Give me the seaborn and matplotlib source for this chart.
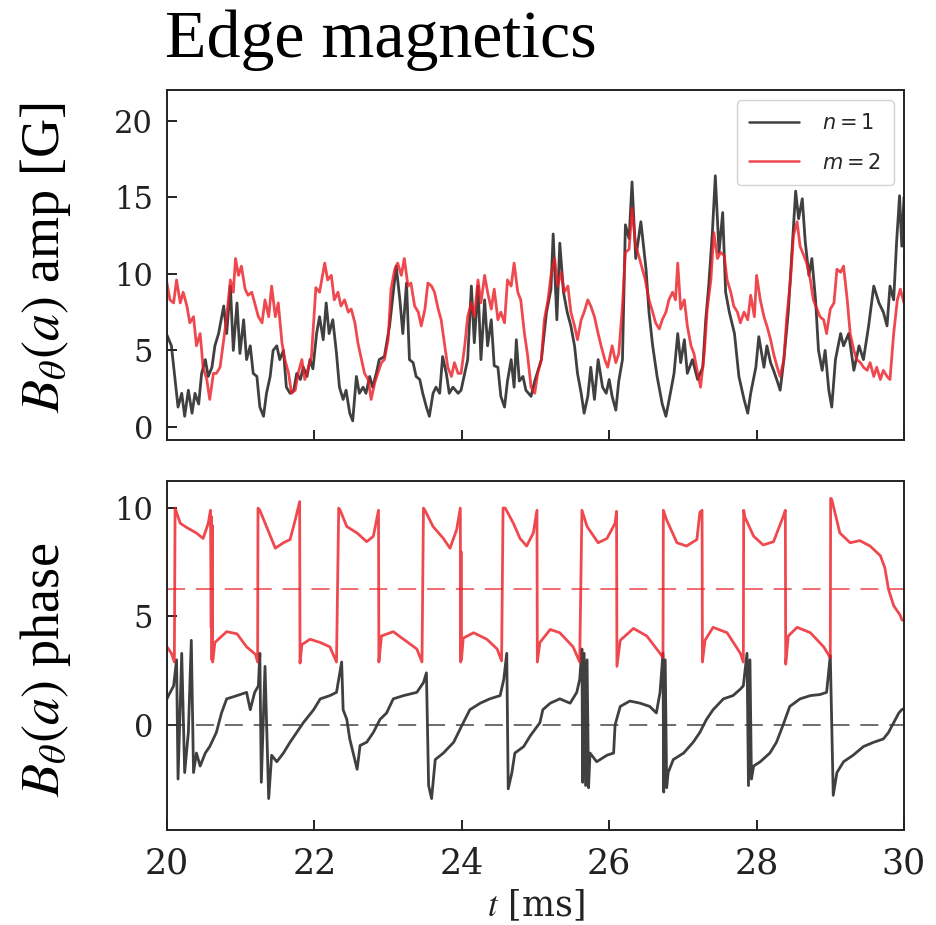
import numpy as np
import pandas as pd
import seaborn as sns
import matplotlib
matplotlib.use("Agg")
import matplotlib.pyplot as plt
from matplotlib.font_manager import FontProperties

# ---------------- data ----------------
amp_n1_t = [20.00,20.06,20.11,20.15,20.20,20.24,20.29,20.34,20.38,20.43,20.47,20.52,20.56,20.61,20.65,20.70,20.77,20.81,20.86,20.90,
            20.95,20.99,21.04,21.08,21.13,21.17,21.22,21.26,21.31,21.35,21.40,21.44,21.49,21.53,21.58,21.62,21.67,21.72,21.76,21.81,
            21.85,21.90,21.94,21.98,22.03,22.07,22.12,22.16,22.20,22.25,22.30,22.34,22.39,22.43,22.48,22.52,22.57,22.61,22.66,22.70,
            22.75,22.79,22.84,22.88,22.95,23.02,23.07,23.11,23.16,23.20,23.25,23.29,23.34,23.38,23.43,23.47,23.52,23.56,23.61,23.65,
            23.70,23.74,23.79,23.83,23.88,23.95,23.99,24.04,24.08,24.13,24.17,24.22,24.26,24.31,24.35,24.40,24.44,24.49,24.53,24.58,
            24.62,24.67,24.71,24.74,24.78,24.83,24.87,24.94,24.99,25.08,25.15,25.21,25.24,25.29,25.33,25.38,25.43,25.48,25.53,25.57,
            25.62,25.66,25.71,25.75,25.80,25.85,25.91,25.96,26.00,26.04,26.09,26.13,26.18,26.22,26.27,26.31,26.36,26.43,26.50,26.54,
            26.59,26.65,26.72,26.77,26.83,26.88,26.93,26.97,27.02,27.06,27.13,27.20,27.27,27.31,27.35,27.40,27.44,27.49,27.54,27.58,
            27.63,27.70,27.76,27.83,27.88,27.92,27.99,28.03,28.10,28.14,28.19,28.23,28.28,28.32,28.37,28.43,28.48,28.53,28.57,28.62,
            28.66,28.71,28.75,28.80,28.84,28.89,28.93,28.98,29.02,29.07,29.14,29.18,29.25,29.32,29.39,29.45,29.52,29.59,29.66,29.72,
            29.77,29.81,29.86,29.90,29.94,29.97,30.00]
amp_n1 = [6.0,5.3,3.1,1.3,2.2,0.7,2.4,0.9,2.2,1.5,3.5,4.4,3.3,3.9,5.3,6.1,7.9,6.1,9.2,5.0,
          8.1,4.8,7.0,4.4,5.3,3.5,3.3,1.3,0.7,2.2,3.3,5.0,5.3,4.4,5.0,2.6,2.2,2.4,3.5,3.1,
          3.9,3.3,4.4,3.8,6.1,7.2,5.7,8.1,6.1,7.0,4.8,2.6,1.8,2.4,0.9,0.4,3.3,2.2,2.6,2.2,
          3.3,2.6,3.5,4.4,4.6,6.6,8.8,10.5,8.3,6.1,9.4,4.4,4.2,3.3,3.1,2.2,1.3,0.7,2.2,2.6,
          2.2,4.6,3.5,2.2,2.6,2.2,2.4,3.5,4.4,9.2,5.5,9.2,4.4,8.3,5.3,7.0,4.0,3.9,2.0,1.3,
          3.0,4.4,2.6,5.7,3.0,3.3,2.4,2.0,3.0,4.4,7.5,9.0,12.6,7.0,12.0,8.8,7.5,6.6,5.3,3.5,
          2.2,0.9,2.0,3.9,1.8,4.4,2.6,2.2,3.1,2.0,1.1,3.0,4.4,13.2,12.3,16.0,11.0,13.4,10.3,7.5,
          5.3,3.3,1.5,0.7,2.2,3.5,6.1,4.2,5.7,3.5,4.4,3.1,3.9,7.0,9.2,12.7,16.4,11.4,14.0,8.8,
          7.5,6.1,3.3,1.8,0.9,2.2,3.9,5.9,3.9,5.3,4.2,3.7,3.0,2.4,4.4,7.5,11.4,15.4,13.6,14.9,
          12.1,9.9,11.0,8.3,5.0,3.7,5.0,2.4,1.3,4.4,6.1,5.3,6.1,3.7,5.3,4.4,6.6,9.2,8.1,7.5,
          6.6,9.2,8.3,12.1,15.1,11.8,15.0]

amp_m2_t = [20.00,20.04,20.09,20.13,20.18,20.22,20.27,20.31,20.36,20.40,20.45,20.49,20.54,20.58,20.63,20.67,20.72,20.77,20.81,20.86,
            20.90,20.93,20.97,21.01,21.06,21.10,21.15,21.20,21.24,21.29,21.33,21.38,21.42,21.47,21.51,21.56,21.60,21.65,21.69,21.74,
            21.78,21.83,21.87,21.92,21.96,22.02,22.07,22.14,22.18,22.23,22.27,22.32,22.36,22.41,22.46,22.50,22.55,22.59,22.64,22.68,
            22.73,22.77,22.82,22.86,22.91,22.95,23.00,23.04,23.09,23.13,23.18,23.22,23.27,23.31,23.36,23.41,23.45,23.50,23.54,23.59,
            23.63,23.68,23.72,23.77,23.81,23.86,23.90,23.95,23.99,24.04,24.08,24.13,24.17,24.22,24.26,24.31,24.35,24.40,24.44,24.49,
            24.53,24.58,24.62,24.67,24.71,24.76,24.80,24.85,24.89,24.94,24.99,25.03,25.08,25.12,25.17,25.21,25.26,25.30,25.35,25.39,
            25.44,25.48,25.53,25.57,25.62,25.66,25.71,25.75,25.80,25.85,25.89,25.94,25.98,26.04,26.09,26.13,26.18,26.22,26.27,26.31,
            26.36,26.40,26.45,26.49,26.54,26.59,26.63,26.68,26.72,26.77,26.81,26.86,26.90,26.93,26.97,27.02,27.06,27.11,27.15,27.20,
            27.24,27.29,27.33,27.38,27.42,27.47,27.51,27.56,27.60,27.65,27.69,27.74,27.78,27.83,27.88,27.92,27.97,28.00,28.05,28.10,
            28.14,28.19,28.23,28.28,28.32,28.37,28.41,28.46,28.50,28.55,28.59,28.64,28.68,28.73,28.77,28.82,28.86,28.91,28.95,29.00,
            29.05,29.09,29.14,29.18,29.23,29.27,29.32,29.36,29.41,29.45,29.50,29.54,29.59,29.63,29.68,29.72,29.77,29.81,29.86,29.91,
            29.95,30.00]
amp_m2 = [9.4,8.3,8.1,9.6,8.1,8.8,7.9,6.8,7.2,5.3,6.1,3.9,3.1,1.8,3.5,3.5,3.9,5.7,7.2,9.6,
          8.8,11.0,9.9,10.5,9.0,8.6,8.8,7.9,7.2,6.8,8.3,7.2,9.2,7.2,8.1,5.5,4.4,3.5,2.2,2.4,
          3.5,4.4,3.1,3.9,4.6,9.1,8.8,10.7,9.6,9.9,8.3,8.8,7.9,8.3,7.5,7.7,6.8,5.5,4.4,3.5,
          3.1,1.8,2.9,3.5,4.2,4.4,5.7,9.0,10.3,10.7,9.9,11.0,9.2,9.4,7.9,7.5,6.6,7.7,9.4,9.2,
          8.8,7.7,7.0,5.3,3.9,3.3,4.2,3.5,3.5,5.3,7.2,8.1,7.2,9.6,8.1,9.9,8.8,7.7,9.0,7.0,
          7.5,6.8,9.6,9.2,10.7,8.8,8.3,6.1,4.8,2.6,2.2,3.5,4.4,7.0,8.3,9.9,11.0,9.2,10.1,8.8,
          9.2,7.5,6.6,5.7,7.0,7.5,8.3,7.9,7.2,6.1,5.3,4.4,3.9,5.3,4.2,4.8,7.9,11.4,11.6,14.3,
          11.8,11.2,10.3,9.6,8.3,7.5,6.8,6.4,7.0,7.5,8.3,8.8,8.3,10.7,7.7,8.3,6.6,5.3,4.8,3.5,
          2.6,4.8,7.7,9.6,12.7,11.0,11.4,11.2,9.6,8.8,7.9,7.5,6.8,7.5,7.0,8.6,7.2,9.9,8.3,7.2,
          6.6,5.7,4.8,3.9,3.3,4.4,7.2,9.6,12.5,13.4,11.8,11.2,10.7,9.6,8.3,7.7,7.2,7.0,6.1,7.7,
          8.1,10.3,10.1,10.5,8.3,6.1,5.0,4.4,4.2,3.9,3.7,4.2,3.3,3.9,3.1,3.7,3.3,3.1,6.1,8.3,
          9.0,8.1]

ph_m2_t = [20.00,20.06,20.10,20.11,20.18,20.27,20.40,20.49,20.56,20.59,20.600,20.605,20.610,20.615,20.62,20.65,20.81,20.95,21.08,21.20,
           21.23,21.235,21.26,21.35,21.47,21.58,21.67,21.74,21.80,21.805,21.83,21.94,22.08,22.21,22.30,22.33,22.35,22.44,22.58,22.71,
           22.80,22.87,22.875,22.91,23.07,23.25,23.39,23.46,23.48,23.50,23.61,23.75,23.84,23.93,23.98,23.985,23.99,23.995,24.02,24.16,
           24.34,24.48,24.54,24.56,24.59,24.70,24.79,24.88,24.97,25.02,25.025,25.06,25.20,25.33,25.51,25.60,25.63,25.70,25.85,25.97,
           26.08,26.10,26.105,26.15,26.33,26.51,26.69,26.73,26.735,26.78,26.92,27.05,27.19,27.23,27.26,27.265,27.30,27.41,27.60,27.78,
           27.82,27.825,27.84,27.96,28.09,28.23,28.36,28.39,28.395,28.43,28.55,28.73,28.91,29.00,29.005,29.02,29.13,29.27,29.40,29.54,
           29.68,29.74,29.79,29.86,29.95,29.97,30.00]
ph_m2 = [3.6,3.3,2.9,10.0,9.3,9.1,8.85,8.6,9.3,9.9,4.5,9.6,3.0,9.2,2.9,3.8,4.3,4.2,3.6,3.25,
         2.9,10.0,9.9,9.15,8.15,8.4,8.55,9.45,10.3,2.85,3.7,3.95,3.8,3.6,2.9,10.0,9.9,9.15,8.85,8.45,
         8.7,9.9,2.9,4.1,4.3,3.85,3.5,2.9,10.0,9.9,9.15,8.6,8.15,9.0,10.0,2.9,8.0,3.0,4.0,4.25,
         3.95,3.5,2.95,10.0,10.0,9.3,8.6,8.25,8.85,9.9,2.9,3.8,4.4,4.25,3.6,2.9,9.9,9.15,8.4,8.6,
         9.3,9.85,2.7,3.9,4.45,4.1,3.3,3.1,9.9,9.45,8.4,8.25,8.55,9.8,9.9,2.9,3.9,4.5,4.25,3.3,
         2.9,9.9,9.6,8.7,8.3,8.45,9.6,9.9,2.8,4.1,4.5,4.25,3.6,3.1,10.45,10.4,8.85,8.4,8.5,8.25,
         7.8,7.25,6.25,5.5,5.05,4.85,4.8]

ph_n1_t = [20.00,20.02,20.09,20.13,20.15,20.20,20.24,20.29,20.33,20.36,20.40,20.45,20.52,20.58,20.67,20.74,20.81,20.95,21.08,21.13,
           21.19,21.24,21.26,21.28,21.33,21.38,21.42,21.49,21.58,21.67,21.76,21.85,21.99,22.08,22.21,22.30,22.37,22.39,22.44,22.48,
           22.58,22.62,22.71,22.80,22.89,22.98,23.07,23.21,23.39,23.48,23.52,23.55,23.59,23.64,23.75,23.89,24.02,24.11,24.25,24.38,
           24.52,24.57,24.61,24.63,24.68,24.72,24.84,24.93,25.06,25.10,25.20,25.33,25.47,25.56,25.60,25.63,25.64,25.66,25.68,25.70,
           25.72,25.74,25.83,25.97,26.06,26.08,26.15,26.28,26.42,26.55,26.64,26.69,26.73,26.74,26.76,26.78,26.80,26.87,27.01,27.14,
           27.23,27.32,27.41,27.55,27.68,27.78,27.82,27.87,27.89,27.91,27.93,27.96,28.05,28.18,28.27,28.36,28.45,28.59,28.73,28.86,
           28.95,29.00,29.04,29.09,29.18,29.31,29.45,29.59,29.72,29.79,29.86,29.93,29.97,30.00]
ph_n1 = [1.2,1.35,1.8,3.0,-2.5,3.3,-2.2,-0.35,3.9,-2.2,-1.3,-1.9,-1.3,-1.0,-0.35,0.55,1.2,1.35,1.5,0.7,
         1.5,1.8,3.3,-2.65,2.7,-3.4,-1.4,-1.7,-1.3,-0.8,-0.35,0.1,0.7,1.2,1.35,1.5,2.9,0.7,0.25,-0.65,
         -2.05,-0.95,-0.8,-0.35,0.25,0.55,1.2,1.35,1.5,1.95,2.4,-2.8,-3.4,-1.6,-1.3,-0.8,0.1,0.7,1.0,1.2,
         1.35,2.1,3.3,-2.95,-2.2,-1.3,-1.0,-0.5,0.1,0.7,1.0,1.2,1.0,1.5,2.1,3.5,-2.65,3.3,-2.8,3.0,
         -2.9,-1.3,-1.7,-1.4,-1.3,0.0,0.85,1.1,1.0,0.85,0.55,1.5,3.3,-3.1,3.0,-2.9,-2.2,-1.6,-1.3,-0.8,
         -0.35,0.25,0.7,1.2,1.35,1.65,1.8,3.3,-2.8,3.0,-2.5,-1.9,-1.7,-1.3,-0.8,0.0,0.85,1.2,1.35,1.4,
         1.5,3.2,-3.25,-2.2,-1.7,-1.4,-1.0,-0.8,-0.65,-0.35,0.1,0.55,0.7,0.75]

phase_refs = [0.0, 6.283]          # n=1 reference, m=2 reference (2*pi)
series_labels = [r"$n = 1$", r"$m = 2$"]
amp_yticks = [0, 5, 10, 15, 20]
ph_yticks = [0, 5, 10]
xticks = [20, 22, 24, 26, 28, 30]

# ---------------- style ----------------
sns.set_theme(style="white")
plt.rcParams["font.family"] = ["DejaVu Serif"]
plt.rcParams["mathtext.fontset"] = "stix"
plt.rcParams["axes.edgecolor"] = "#222222"
plt.rcParams["axes.linewidth"] = 1.4

BLACK = "#2b2b2b"
RED = "#ec1c24"

fig = plt.figure(figsize=(9.36, 9.25), dpi=100)
ax1 = fig.add_axes([0.1784, 0.5243, 0.7874, 0.3784])
ax2 = fig.add_axes([0.1784, 0.1027, 0.7874, 0.3773])

df_a1 = pd.DataFrame({"t": amp_n1_t, "v": amp_n1})
df_a2 = pd.DataFrame({"t": amp_m2_t, "v": amp_m2})
df_p1 = pd.DataFrame({"t": ph_n1_t, "v": ph_n1})
df_p2 = pd.DataFrame({"t": ph_m2_t, "v": ph_m2})

LW = 2.0
sns.lineplot(data=df_a1, x="t", y="v", ax=ax1, color=BLACK, lw=LW, alpha=0.9,
             estimator=None, sort=False, label=series_labels[0])
sns.lineplot(data=df_a2, x="t", y="v", ax=ax1, color=RED, lw=LW, alpha=0.8,
             estimator=None, sort=False, label=series_labels[1])

sns.lineplot(data=df_p1, x="t", y="v", ax=ax2, color=BLACK, lw=LW, alpha=0.9,
             estimator=None, sort=False, legend=False)
sns.lineplot(data=df_p2, x="t", y="v", ax=ax2, color=RED, lw=LW, alpha=0.8,
             estimator=None, sort=False, legend=False)
ax2.axhline(phase_refs[0], color="#3a3a3a", lw=1.3, alpha=0.8, ls=(0, (10, 6)))
ax2.axhline(phase_refs[1], color=RED, lw=1.3, alpha=0.7, ls=(0, (10, 6)))

for ax in (ax1, ax2):
    ax.set_xlim(20, 30)
    ax.set_xticks(xticks)
    ax.tick_params(direction="in", length=7, width=1.3, colors="#111111",
                   left=True, bottom=True, top=False, right=False)
    ax.tick_params(axis="y", labelsize=22, pad=10, labelcolor="#222222")
    ax.tick_params(axis="x", labelsize=25, pad=12, labelcolor="#222222")
    ax.set_xlabel("")
    for s in ax.spines.values():
        s.set_color("#222222")
        s.set_linewidth(1.4)

ax1.set_ylim(-0.85, 22.0)
ax1.set_yticks(amp_yticks)
ax1.tick_params(labelbottom=False)
ax2.set_ylim(-4.85, 11.25)
ax2.set_yticks(ph_yticks)

ax1.set_ylabel(r"$B_\theta(a)$ amp [G]", fontfamily="Liberation Serif", fontsize=39, color="black")
ax2.set_ylabel(r"$B_\theta(a)$ phase", fontfamily="Liberation Serif", fontsize=39, color="black")
ax1.yaxis.set_label_coords(-0.127, 0.52)
ax2.yaxis.set_label_coords(-0.127, 0.46)
ax2.set_xlabel(r"$t$ [ms]", fontfamily="DejaVu Serif", fontsize=25, color="#222222", labelpad=5)

leg = ax1.legend(loc="upper right", frameon=True, fancybox=True, framealpha=0.85,
                 edgecolor="#cccccc", borderaxespad=0.5, handlelength=2.4,
                 handletextpad=1.1, labelspacing=0.95, borderpad=0.6,
                 prop=FontProperties(family="DejaVu Sans", size=15, math_fontfamily="dejavusans"))
for h in leg.get_lines():
    h.set_linewidth(1.8)

fig.text(0.176, 0.938, "Edge magnetics", fontfamily="Liberation Serif", fontsize=49,
         va="baseline", ha="left", color="black")

fig.savefig("out.png", dpi=100)
